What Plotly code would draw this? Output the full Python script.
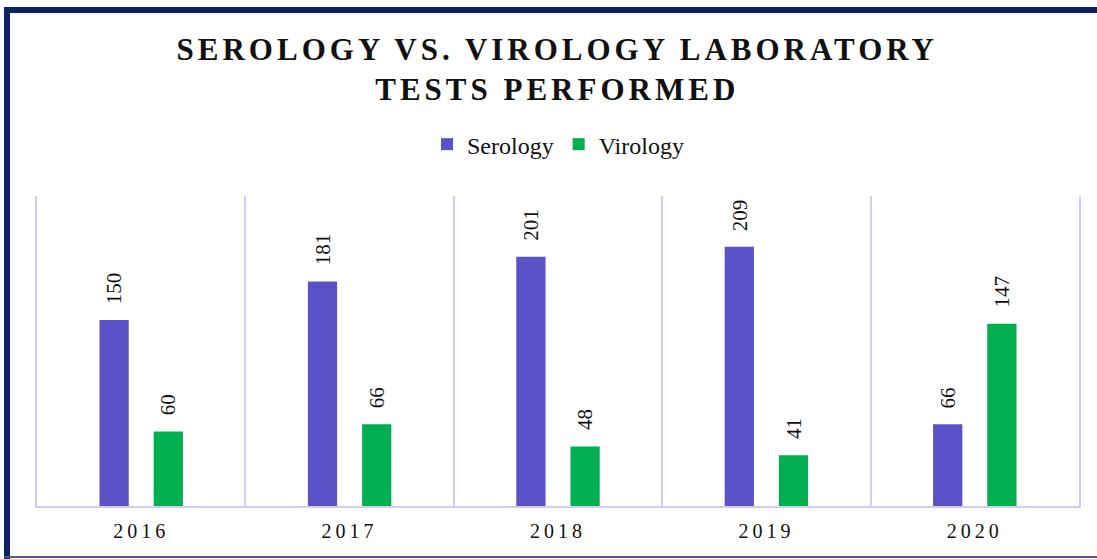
import plotly.graph_objects as go

years = ["2016", "2017", "2018", "2019", "2020"]
serology = [150, 181, 201, 209, 66]
virology = [60, 66, 48, 41, 147]

SER_COLOR = "#5B52C8"
VIR_COLOR = "#00B050"
GRID_COLOR = "#D2CDEE"
SERIF = "Liberation Serif, Times New Roman, serif"
TEXT_COLOR = "#111111"

fig = go.Figure()
for name, vals, col in [("Serology", serology, SER_COLOR), ("Virology", virology, VIR_COLOR)]:
    fig.add_trace(go.Bar(
        name=name, x=years, y=vals, marker=dict(color=col, line=dict(width=0)),
        cliponaxis=False,
    ))

annotations = []
for vals, shift in [(serology, -27), (virology, 27)]:
    for i, v in enumerate(vals):
        annotations.append(dict(
            x=i, y=v, xref="x", yref="y", text=str(v), showarrow=False,
            textangle=-90, xshift=shift, yshift=14, yanchor="bottom", xanchor="center",
            font=dict(family=SERIF, size=21, color=TEXT_COLOR),
        ))

fig.update_layout(
    width=1097, height=559,
    margin=dict(l=37, r=18, t=196, b=53),
    paper_bgcolor="white", plot_bgcolor="white",
    barmode="group", bargap=0.48, bargroupgap=0.46,
    title=dict(
        text="<b>SEROLOGY VS. VIROLOGY LABORATORY<br>TESTS PERFORMED</b>",
        x=0.508, xanchor="center", y=0.8935, yanchor="top",
        font=dict(family=SERIF, size=31, color=TEXT_COLOR),
    ),
    legend=dict(
        orientation="h", x=0.5, xanchor="center", y=1.166, yanchor="middle",
        font=dict(family=SERIF, size=24, color=TEXT_COLOR),
        itemwidth=30, traceorder="normal",
    ),
    xaxis=dict(
        type="category", tickson="boundaries", showgrid=True, gridcolor=GRID_COLOR, gridwidth=2,
        showline=True, linecolor=GRID_COLOR, linewidth=2, ticks="",
        tickfont=dict(family=SERIF, size=20, color=TEXT_COLOR),
        ticklabelstandoff=6,
        range=[-0.5, 4.5],
    ),
    yaxis=dict(
        range=[0, 250], showgrid=False, showticklabels=False, zeroline=False,
        showline=True, linecolor=GRID_COLOR, linewidth=2, mirror=True, ticks="",
    ),
    annotations=annotations,
    shapes=[
        dict(type="line", xref="paper", yref="paper", x0=-0.0317, x1=1.03, y0=1.6, y1=1.6,
             line=dict(color="#0B2263", width=6)),
        dict(type="line", xref="paper", yref="paper", x0=-0.0288, x1=-0.0288, y0=1.61, y1=-0.2,
             line=dict(color="#0B2263", width=6)),
        dict(type="line", xref="paper", yref="paper", x0=-0.0317, x1=1.03, y0=-0.1645, y1=-0.1645,
             line=dict(color="#4A5A8C", width=2)),
    ],
)

post = (
    "document.body.style.margin='0';"
    "var gd=document.getElementById('{plot_id}');"
    "gd.querySelectorAll('.gtitle').forEach(function(e){e.style.letterSpacing='4px';});"
    "gd.querySelectorAll('.xtick text').forEach(function(e){e.style.letterSpacing='4px';});"
)
fig.write_html("out.html", post_script=post, config={"displayModeBar": False})
